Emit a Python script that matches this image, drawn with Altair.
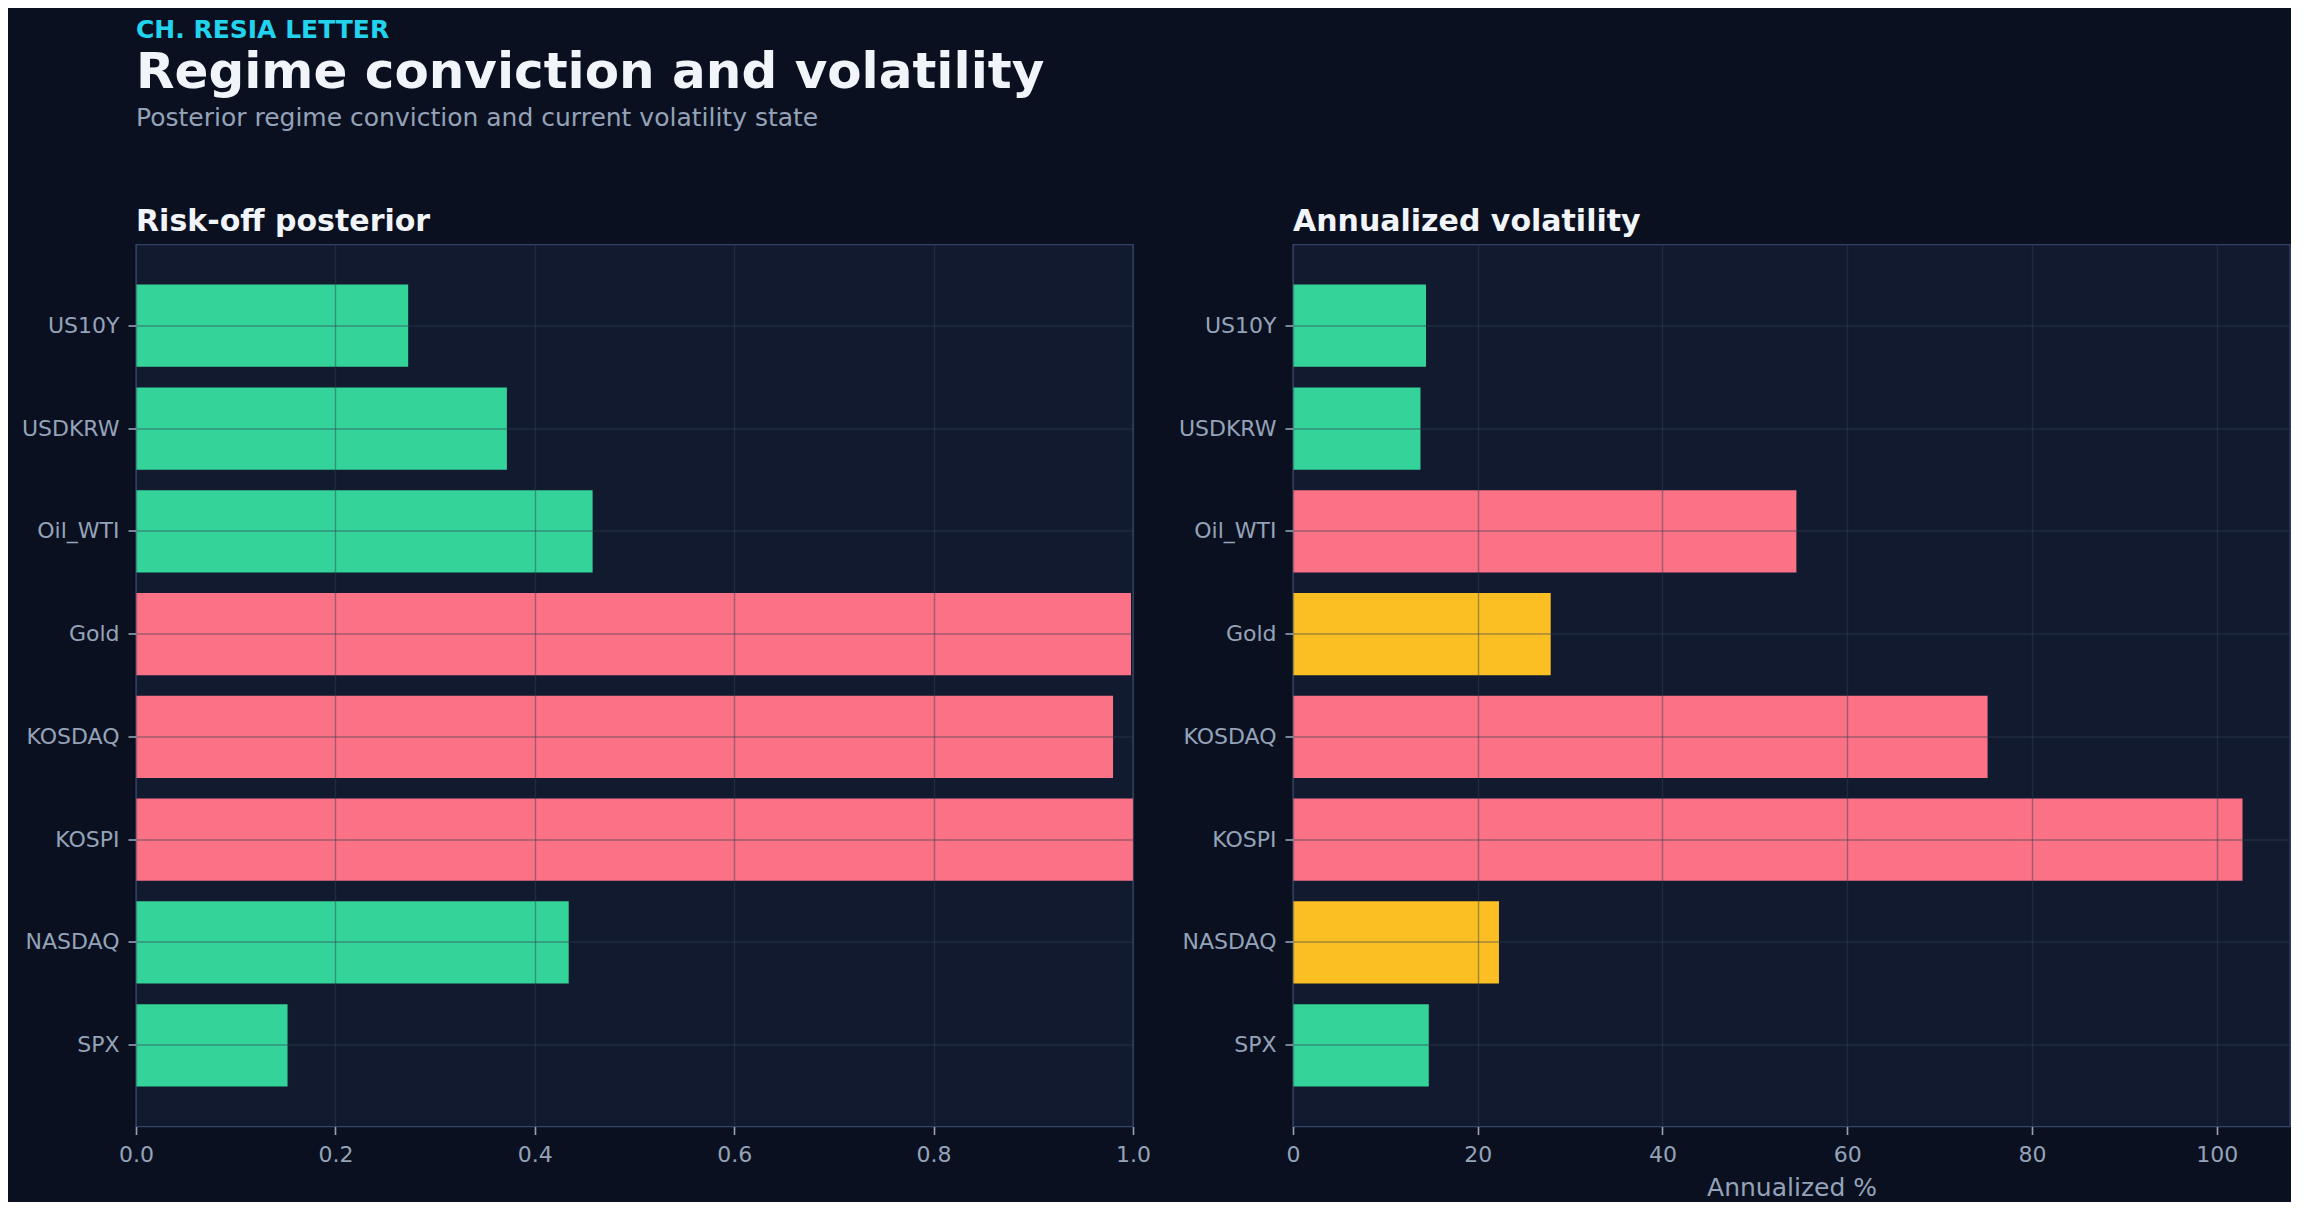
import altair as alt
import pandas as pd

# ---- data ----
assets = ["US10Y", "USDKRW", "Oil_WTI", "Gold", "KOSDAQ", "KOSPI", "NASDAQ", "SPX"]
risk_off = [0.273, 0.372, 0.458, 0.998, 0.980, 1.000, 0.434, 0.152]
regime = ["risk-on", "risk-on", "risk-on", "risk-off", "risk-off", "risk-off", "risk-on", "risk-on"]
vol = [14.4, 13.8, 54.5, 27.9, 75.2, 102.8, 22.3, 14.7]
vol_state = ["low", "low", "high", "mid", "high", "high", "mid", "low"]

regime_palette = {"risk-on": "#34d399", "risk-off": "#fb7185"}
state_palette = {"low": "#34d399", "mid": "#fbbf24", "high": "#fb7185"}

left_ticks = [0.0, 0.2, 0.4, 0.6, 0.8, 1.0]
right_ticks = [0, 20, 40, 60, 80, 100]

eyebrow = "CH. RESIA LETTER"
main_title = "Regime conviction and volatility"
subtitle = "Posterior regime conviction and current volatility state"
left_title = "Risk-off posterior"
right_title = "Annualized volatility"
right_xlabel = "Annualized %"

df = pd.DataFrame({
    "asset": assets,
    "risk_off": risk_off,
    "regime": regime,
    "regime_color": [regime_palette[r] for r in regime],
    "vol": vol,
    "vol_state": vol_state,
    "vol_color": [state_palette[s] for s in vol_state],
})

# ---- style ----
FONT = "DejaVu Sans"
BG = "#0b1020"
PANEL = "#111a2e"
TEXT = "#f1f5f9"
MUTED = "#94a3b8"
SPINE = "#33446a"
GRID = "#334155"
ACCENT = "#22d3ee"

W, H = 997, 882

y_enc = alt.Y(
    "asset:N", sort=assets, title=None,
    scale=alt.Scale(paddingInner=0.2, paddingOuter=0.39),
    axis=alt.Axis(grid=True, zindex=1),
)


def panel_title(t):
    return alt.TitleParams(t, anchor="start", frame="group", fontSize=30,
                           fontWeight="bold", color=TEXT, font=FONT, offset=8)


left = alt.Chart(df).mark_bar().encode(
    x=alt.X("risk_off:Q", title=None,
            scale=alt.Scale(domain=[0, 1], nice=False, zero=True),
            axis=alt.Axis(values=left_ticks, format=".1f", grid=True, zindex=1,
                          labelFlush=False)),
    y=y_enc,
    color=alt.Color("regime_color:N", scale=None, legend=None),
    tooltip=["asset", "risk_off", "regime"],
).properties(width=W, height=H, title=panel_title(left_title))

right = alt.Chart(df).mark_bar().encode(
    x=alt.X("vol:Q", title=right_xlabel,
            scale=alt.Scale(domain=[0, max(vol) * 1.05], nice=False, zero=True),
            axis=alt.Axis(values=right_ticks, format="d", grid=True, zindex=1,
                          labelFlush=False)),
    y=y_enc,
    color=alt.Color("vol_color:N", scale=None, legend=None),
    tooltip=["asset", "vol", "vol_state"],
).properties(width=W, height=H, title=panel_title(right_title))

panels = alt.hconcat(left, right, spacing=160, bounds="flush").properties(
    title=alt.TitleParams(main_title, subtitle=[subtitle], anchor="start", frame="group",
                          fontSize=50, fontWeight="bold", color=TEXT, font=FONT,
                          subtitleFont=FONT, subtitleFontSize=25, subtitleColor=MUTED,
                          subtitleFontWeight="normal", subtitlePadding=7.5, offset=75)
)

chart = alt.vconcat(panels, bounds="flush").properties(
    title=alt.TitleParams(eyebrow, anchor="start", frame="group", fontSize=25,
                          fontWeight="bold", color=ACCENT, font=FONT, offset=5)
).configure(
    background=BG,
    padding={"left": 12, "top": 9.5, "right": 0, "bottom": 0},
    font=FONT,
).configure_view(
    fill=PANEL, stroke=SPINE, strokeWidth=1.4,
).configure_axis(
    labelFont=FONT, labelFontSize=22, labelColor=MUTED,
    titleFont=FONT, titleFontSize=25, titleColor=MUTED, titleFontWeight="normal",
    titlePadding=10,
    tickColor=MUTED, tickSize=8, tickWidth=1.6,
    domain=False,
    gridColor=GRID, gridOpacity=0.45, gridWidth=1.4,
).configure_axisX(labelPadding=10).configure_axisY(labelPadding=9)

chart.save("out.html", embed_options={"renderer": "svg", "actions": False})
